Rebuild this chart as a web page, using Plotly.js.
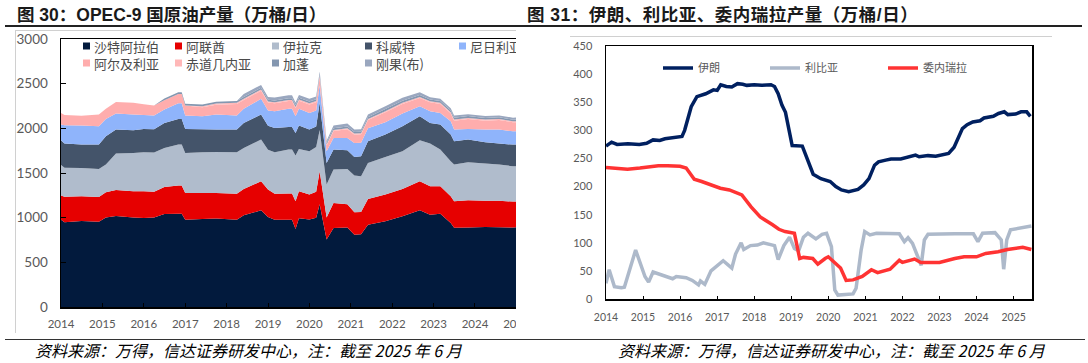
<!DOCTYPE html>
<html><head><meta charset="utf-8">
<script src="https://cdn.plot.ly/plotly-3.0.1.min.js"></script>
<style>
html,body{margin:0;padding:0;background:#fff;}
body{width:1088px;height:363px;position:relative;overflow:hidden;}
.title{position:absolute;top:5px;font-family:'Liberation Sans','Noto Sans CJK SC',sans-serif;font-weight:bold;font-size:17.5px;line-height:20px;color:#1a1a1a;white-space:nowrap;}
.src{position:absolute;top:341px;font-family:'Noto Sans CJK SC',sans-serif;font-style:italic;font-size:16px;line-height:19px;color:#000;white-space:nowrap;}
.ln{position:absolute;}
</style></head>
<body>
<div class="title" style="left:17px">图 30：OPEC-9 国原油产量（万桶/日）</div>
<div class="title" style="left:527px;letter-spacing:0.5px">图 31：伊朗、利比亚、委内瑞拉产量（万桶/日）</div>
<div class="ln" style="left:5px;top:25px;width:1077px;height:1.5px;background:#222"></div>
<div class="ln" style="left:15px;top:30px;width:1px;height:303px;background:#d0d0d0"></div>
<div class="ln" style="left:15px;top:30px;width:501px;height:1px;background:#d0d0d0"></div>
<div class="ln" style="left:570px;top:36px;width:482px;height:1px;background:#d0d0d0"></div>
<div id="wrap1" style="position:absolute;left:0;top:0;width:516px;height:363px;overflow:hidden"><div id="chart1"></div></div>
<div id="chart2" style="position:absolute;left:544px;top:0"></div>
<div class="ln" style="left:5px;top:339px;width:1080px;height:1px;background:#333"></div>
<div class="src" style="left:35px">资料来源：万得，信达证券研发中心，注：截至 2025 年 6 月</div>
<div class="src" style="left:618px">资料来源：万得，信达证券研发中心，注：截至 2025 年 6 月</div>
<script>
// ---------- Chart 30 data (万桶/日) ----------
const opecDates = ['2014-01-01','2014-02-01','2014-07-01','2014-12-01','2015-02-01','2015-05-01','2015-10-01','2016-01-01','2016-04-01','2016-07-01','2016-11-01','2016-12-01','2017-01-01','2017-06-01','2017-10-01','2018-04-01','2018-06-01','2018-11-01','2019-01-01','2019-03-01','2019-07-01','2019-08-01','2019-09-01','2019-10-01','2020-01-01','2020-03-01','2020-04-01','2020-06-01','2020-08-01','2020-12-01','2021-02-01','2021-04-01','2021-06-01','2021-11-01','2022-04-01','2022-09-01','2022-12-01','2023-03-01','2023-06-01','2023-07-01','2023-11-01','2024-04-01','2024-08-01','2024-12-01','2025-06-01'];
const saudi    = [978,950,963,955,1003,1020,1003,996,1003,1040,1045,1045,978,985,990,978,1026,1082,1007,978,978,978,874,993,980,1000,1150,756,885,890,810,815,922,959,1015,1082,1034,1045,941,888,890,895,893,890,900];
const uae      = [269,285,277,277,281,290,293,300,287,304,314,314,299,290,287,291,296,325,307,291,292,292,309,303,278,290,370,247,279,260,250,248,288,299,307,325,317,306,298,296,304,295,297,290,290];
const iraq     = [343,325,317,314,310,407,429,436,440,437,459,459,448,457,458,463,459,467,446,463,492,492,512,473,485,500,460,367,375,396,411,401,403,422,421,459,478,411,393,410,427,416,404,396,390];
const kuwait   = [276,270,263,272,317,269,253,261,260,280,287,287,268,258,251,254,280,280,270,272,254,254,254,262,243,230,310,243,224,209,209,224,242,250,280,269,232,280,298,261,253,238,235,242,240];
const nigeria  = [176,205,211,205,194,179,176,157,155,149,175,175,150,145,168,157,157,176,170,187,202,202,186,187,187,180,190,130,129,137,157,152,146,138,142,112,130,131,149,131,119,142,157,149,155];
const algeria  = [131,115,109,131,113,131,131,120,110,105,105,105,112,100,111,130,100,92,88,89,88,88,93,92,95,93,93,65,78,97,92,93,92,111,108,93,100,100,89,100,112,100,107,100,98];
const eqGuinea = [0,0,0,0,0,0,0,0,0,0,0,0,0,12,12,12,12,12,12,12,12,12,12,12,12,12,12,10,12,12,12,12,12,12,12,12,12,12,12,12,12,12,12,12,12];
const gabon    = [0,0,0,0,0,0,0,0,0,20,20,20,20,20,20,20,20,20,20,20,20,20,20,20,20,20,20,17,20,20,18,18,20,25,25,22,20,20,20,20,20,18,18,18,18];
const congo    = [0,0,0,0,0,0,0,0,0,0,0,0,0,0,0,0,35,32,32,32,33,33,30,32,30,30,30,25,29,32,27,27,29,31,31,30,26,26,26,26,22,22,22,22,22];
const opecNames = ['沙特阿拉伯','阿联酋','伊拉克','科威特','尼日利亚','阿尔及利亚','赤道几内亚','加蓬','刚果(布)'];
const opecSeries = [saudi,uae,iraq,kuwait,nigeria,algeria,eqGuinea,gabon,congo];
const opecColors = ['#021a3d','#e60000','#b0bccc','#44546a','#8fb4fb','#ffadad','#ffb8b8','#8497b0','#9aa7bf'];
const yearLabels = ['2014','2015','2016','2017','2018','2019','2020','2021','2022','2023','2024','2025'];

// ---------- Chart 31 data (万桶/日) ----------
const iranDates = ['2014-01-01','2014-02-25','2014-04-20','2014-08-05','2014-11-25','2015-02-05','2015-04-10','2015-06-15','2015-08-05','2015-11-25','2016-01-20','2016-02-15','2016-03-15','2016-04-20','2016-06-15','2016-09-10','2016-11-25','2017-01-01','2017-02-05','2017-04-01','2017-05-25','2017-07-20','2017-09-10','2017-10-20','2018-01-01','2018-03-15','2018-06-15','2018-07-20','2018-08-25','2018-10-01','2018-11-05','2018-12-15','2019-01-10','2019-04-20','2019-05-25','2019-07-01','2019-08-05','2019-10-20','2020-01-20','2020-03-15','2020-05-10','2020-07-20','2020-10-20','2020-12-15','2021-02-05','2021-04-01','2021-05-10','2021-07-20','2021-09-10','2021-12-15','2022-03-15','2022-05-10','2022-06-15','2022-09-10','2022-11-25','2023-02-05','2023-04-01','2023-05-25','2023-07-01','2023-08-15','2023-10-01','2023-11-25','2024-02-05','2024-03-15','2024-06-15','2024-08-05','2024-10-01','2024-11-05','2025-01-20','2025-03-15','2025-05-10','2025-06-15'];
const iran = [272,279,275,276,275,277,283,282,285,287,289,300,320,342,360,365,372,371,381,378,377,383,382,380,381,380,381,378,365,345,332,295,273,272,255,235,222,214,209,200,194,191,195,203,214,238,244,247,249,249,254,256,253,255,254,256,259,270,285,303,310,315,317,322,325,330,333,328,329,333,333,325];
const libyaDates = ['2014-01-01','2014-02-01','2014-03-25','2014-06-01','2014-07-01','2014-10-20','2015-01-20','2015-02-25','2015-04-10','2015-08-01','2015-10-20','2015-11-25','2016-03-01','2016-05-01','2016-07-01','2016-07-20','2016-09-01','2016-11-01','2017-01-01','2017-03-01','2017-05-25','2017-07-01','2017-08-25','2017-09-20','2017-11-25','2018-02-01','2018-04-01','2018-06-01','2018-07-20','2018-08-25','2018-10-20','2018-12-15','2019-02-01','2019-03-15','2019-05-01','2019-06-15','2019-09-01','2019-11-01','2019-12-15','2020-02-01','2020-03-05','2020-04-05','2020-09-01','2020-10-01','2020-11-20','2020-12-25','2021-02-15','2021-04-20','2021-12-01','2022-01-20','2022-02-25','2022-04-10','2022-06-01','2022-07-05','2022-08-05','2022-09-10','2023-06-01','2023-12-01','2024-01-15','2024-03-01','2024-07-01','2024-09-01','2024-09-25','2024-10-25','2024-12-01','2025-04-01','2025-06-25'];
const libya = [28,52,22,20,21,87,40,30,48,40,36,40,38,33,25,32,26,50,60,68,55,80,100,88,95,96,100,97,95,70,95,110,90,86,110,117,107,115,117,93,16,7,9,19,87,120,114,117,116,102,109,99,75,60,105,115,116,116,102,117,118,105,53,105,123,127,130];
const venDates = ['2014-01-01','2014-05-01','2014-08-01','2014-12-01','2015-03-01','2015-06-01','2015-09-01','2016-01-01','2016-03-01','2016-04-01','2016-05-20','2016-08-01','2016-11-01','2017-02-01','2017-05-01','2017-09-01','2017-12-01','2018-03-01','2018-07-01','2018-09-01','2018-11-01','2019-02-01','2019-03-25','2019-05-01','2019-08-01','2019-09-20','2019-12-01','2020-01-01','2020-05-01','2020-06-25','2020-09-01','2020-12-01','2021-03-01','2021-05-01','2021-09-01','2021-12-01','2022-01-01','2022-05-01','2022-07-01','2023-01-01','2023-06-01','2023-09-01','2024-01-01','2024-04-01','2024-08-01','2024-11-01','2025-04-01','2025-06-25'];
const venezuela = [234,233,231,233,235,237,237,236,233,225,213,209,203,197,194,185,164,146,132,124,120,117,72,74,72,62,72,75,55,33,34,40,52,47,53,69,65,71,65,65,72,75,75,81,84,88,92,88];
const lineNames = ['伊朗','利比亚','委内瑞拉'];
const lineColors = ['#002060','#adb9ca','#ff3333'];

const FONT = "Lato, 'Noto Sans CJK SC', sans-serif";
const CJK = "'Noto Sans CJK SC', sans-serif";
const tickVals = yearLabels.map(y => y + '-01-01');

// ---------- Chart 30 ----------
const P1 = {l:61, t:39, w:476, h:268};
const px1 = x => (x - P1.l) / P1.w;
const py1 = y => (P1.t + P1.h - y) / P1.h;

const traces1 = opecSeries.map((vals, i) => ({
  type:'scatter', x: opecDates, y: vals, name: opecNames[i],
  stackgroup:'one', mode:'none', fillcolor: opecColors[i],
  line:{width:0}, showlegend:false, hoverinfo:'skip'
}));

const legPos = [[83,46],[175,46],[272,46],[365,46],[459,46],[83,63],[175,63],[272,63],[365,63]];
const shapes1 = [], ann1 = [];
opecNames.forEach((n, i) => {
  const [x, y] = legPos[i];
  shapes1.push({type:'rect', xref:'paper', yref:'paper', x0:px1(x), x1:px1(x+7), y0:py1(y+3.5), y1:py1(y-3.5), fillcolor:opecColors[i], line:{width:0}});
  ann1.push({xref:'paper', yref:'paper', x:px1(x+9), y:py1(y), xanchor:'left', yanchor:'middle', showarrow:false, text:n, font:{family:CJK, size:13, color:'#4a4a4a'}});
});

Plotly.newPlot('chart1', traces1, {
  width: 560, height: 363,
  margin:{l:P1.l, r:560-P1.l-P1.w, t:P1.t, b:363-P1.t-P1.h, pad:0},
  paper_bgcolor:'rgba(0,0,0,0)', plot_bgcolor:'#fff',
  showlegend:false,
  xaxis:{type:'date', range:['2014-01-01','2025-07-01'], tickvals:tickVals, ticktext:yearLabels,
    ticks:'inside', ticklen:4, tickcolor:'#000', tickwidth:1,
    showline:true, linecolor:'#000', linewidth:1.5, mirror:true, showgrid:false, zeroline:false,
    tickfont:{family:FONT, size:11.5, color:'#595959'}, ticklabelstandoff:6},
  yaxis:{range:[0,3000], tickvals:[0,500,1000,1500,2000,2500,3000],
    ticks:'inside', ticklen:5, tickcolor:'#000', tickwidth:1,
    showline:true, linecolor:'#000', linewidth:1.5, mirror:true, showgrid:false, zeroline:false,
    tickfont:{family:FONT, size:13.5, color:'#595959'}, ticklabelstandoff:9},
  shapes: shapes1, annotations: ann1
}, {displayModeBar:false, staticPlot:true});

// ---------- Chart 31 ----------
const P2 = {l:62, t:46, w:426, h:253};
const series2 = [[iranDates, iran],[libyaDates, libya],[venDates, venezuela]];
const legW = [62, 73, 70];
const traces2 = series2.map((s, i) => ({
  type:'scatter', mode:'lines', x:s[0], y:s[1], name:lineNames[i],
  line:{color:lineColors[i], width:3.5}, legendwidth:legW[i], hoverinfo:'skip'
}));

Plotly.newPlot('chart2', traces2, {
  width: 544, height: 363,
  margin:{l:P2.l, r:544-P2.l-P2.w, t:P2.t, b:363-P2.t-P2.h, pad:0},
  paper_bgcolor:'rgba(0,0,0,0)', plot_bgcolor:'#fff',
  showlegend:true,
  legend:{orientation:'h', x:(658-606)/P2.w, xanchor:'left', y:(299-68)/P2.h, yanchor:'middle',
    bgcolor:'rgba(0,0,0,0)', borderwidth:0, font:{family:CJK, size:11, color:'#595959'}, traceorder:'normal'},
  xaxis:{type:'date', range:['2014-01-01','2025-07-01'], tickvals:tickVals, ticktext:yearLabels,
    ticks:'inside', ticklen:3, tickcolor:'#000', tickwidth:1,
    showline:true, linecolor:'#000', linewidth:1.5, mirror:true, showgrid:false, zeroline:false,
    tickfont:{family:FONT, size:10.5, color:'#595959'}, ticklabelstandoff:8},
  yaxis:{range:[0,450], tickvals:[0,50,100,150,200,250,300,350,400,450],
    ticks:'', showline:true, linecolor:'#000', linewidth:1.5, mirror:true, showgrid:false, zeroline:false,
    tickfont:{family:FONT, size:11, color:'#595959'}, ticklabelstandoff:10}
}, {displayModeBar:false, staticPlot:true});
</script>
</body></html>
